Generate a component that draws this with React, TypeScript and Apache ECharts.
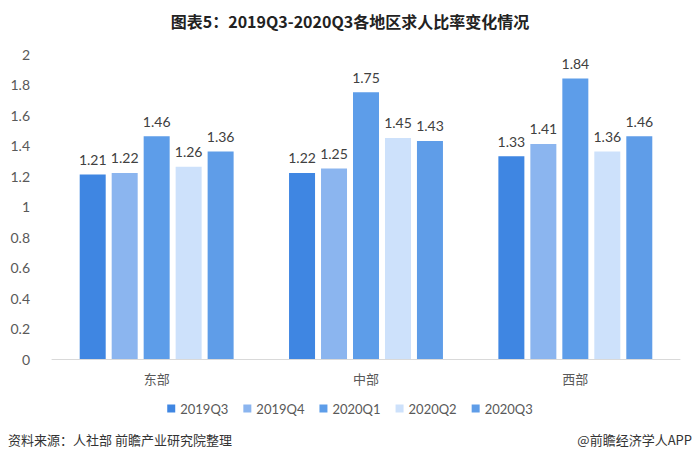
import React, { useEffect, useRef } from "react";
import * as echarts from "echarts";

const categories = ["东部", "中部", "西部"];
const seriesNames = ["2019Q3", "2019Q4", "2020Q1", "2020Q2", "2020Q3"];
const q2019Q3 = [1.21, 1.22, 1.33];
const q2019Q4 = [1.22, 1.25, 1.41];
const q2020Q1 = [1.46, 1.75, 1.84];
const q2020Q2 = [1.26, 1.45, 1.36];
const q2020Q3 = [1.36, 1.43, 1.46];
const yTicks = [0, 0.2, 0.4, 0.6, 0.8, 1, 1.2, 1.4, 1.6, 1.8, 2];
const colors = ["#3f86e2", "#8bb5ef", "#5d9de9", "#cde1fb", "#5f9de8"];

export default function App() {
  const ref = useRef<HTMLDivElement>(null);
  useEffect(() => {
    if (!ref.current) return;
    const chart = echarts.init(ref.current, undefined, { renderer: "svg" });
    const all = [q2019Q3, q2019Q4, q2020Q1, q2020Q2, q2020Q3];
    const font = "'Noto Sans CJK SC', sans-serif";
    const numFont = "Lato, 'Noto Sans', sans-serif";
    chart.setOption({
      animation: false,
      backgroundColor: "#ffffff",
      title: {
        text: "图表5：2019Q3-2020Q3各地区求人比率变化情况",
        left: "center",
        top: 8,
        textStyle: { fontSize: 16, fontWeight: "bold", color: "#222", fontFamily: font },
      },
      legend: {
        data: seriesNames,
        bottom: 42,
        left: "center",
        itemWidth: 8,
        itemHeight: 8,
        itemGap: 15,
        icon: "rect",
        textStyle: { fontSize: 13, color: "#595959", fontFamily: numFont },
      },
      grid: { left: 52, right: 20, top: 54, bottom: 103 },
      xAxis: {
        type: "category",
        data: categories,
        axisLine: { lineStyle: { color: "#d9d9d9" } },
        axisTick: { show: false },
        axisLabel: { fontSize: 13, color: "#595959", margin: 13, fontFamily: font },
      },
      yAxis: {
        type: "value",
        min: 0,
        max: 2,
        interval: 0.2,
        splitLine: { show: false },
        axisLine: { show: false },
        axisTick: { show: false },
        axisLabel: {
          fontSize: 14,
          color: "#595959",
          margin: 22,
          fontFamily: numFont,
          formatter: (v: number) => {
            const t = yTicks.find((x) => Math.abs(x - v) < 1e-6);
            return String(t !== undefined ? t : Number(v.toFixed(1)));
          },
        },
      },
      series: seriesNames.map((name, i) => ({
        name,
        type: "bar",
        data: all[i],
        barWidth: 26,
        barGap: "23%",
        itemStyle: { color: colors[i] },
        label: {
          show: true,
          position: "top",
          distance: 8,
          fontSize: 14,
          color: "#404040",
          fontFamily: numFont,
          formatter: (p: any) => p.value.toFixed(2),
        },
      })),
      graphic: [
        {
          type: "text",
          x: 8,
          y: 433,
          style: { text: "资料来源：人社部 前瞻产业研究院整理", fontSize: 13, fill: "#333", fontFamily: font },
        },
        {
          type: "text",
          x: 692,
          y: 433,
          style: {
            text: "@前瞻经济学人APP",
            fontSize: 13,
            fill: "#333",
            fontFamily: font,
            align: "right",
          },
        },
      ],
    });
    return () => chart.dispose();
  }, []);
  return <div ref={ref} style={{ width: 700, height: 462, margin: -8 }} />;
}
